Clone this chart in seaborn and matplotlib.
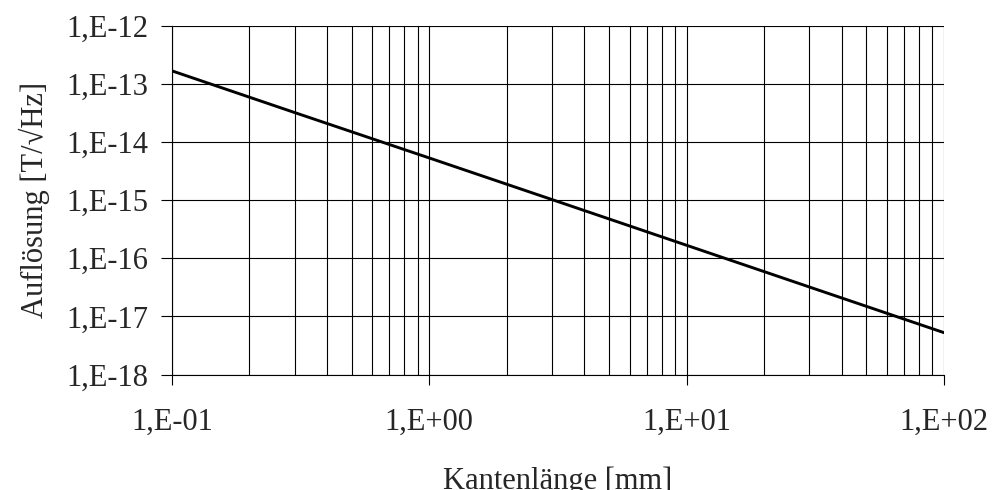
import numpy as np
import pandas as pd
import matplotlib
matplotlib.use('Agg')
import matplotlib.pyplot as plt
import matplotlib.ticker as mticker
import seaborn as sns

# values
kantenlaenge = [0.1, 0.3, 1, 3, 10, 30, 100]
aufloesung = [1.67e-13, 3.2e-14, 5.3e-15, 1.02e-15, 1.67e-16, 3.2e-17, 5.25e-18]

df = pd.DataFrame({'Kantenlänge': kantenlaenge, 'Auflösung': aufloesung})

sns.set_style('white')
plt.rcParams['font.family'] = ['Liberation Serif', 'DejaVu Serif']


def sci_fmt(v, pos):
    e = int(round(np.log10(v)))
    return '1,E%+03d' % e


fig = plt.figure(figsize=(10.01, 4.90), dpi=100)
ax = fig.add_axes([0.1718, 0.2357, 0.943 - 0.1718, 0.9476 - 0.2357])

sns.lineplot(data=df, x='Kantenlänge', y='Auflösung', color='black', linewidth=2.1, ax=ax)

ax.set_xscale('log')
ax.set_yscale('log')
ax.set_xlim(0.1, 100)
ax.set_ylim(1e-18, 1e-12)

ax.xaxis.set_major_locator(mticker.LogLocator(base=10, numticks=10))
ax.xaxis.set_minor_locator(mticker.LogLocator(base=10, subs=np.arange(2, 10), numticks=20))
ax.yaxis.set_major_locator(mticker.LogLocator(base=10, numticks=10))
ax.yaxis.set_minor_locator(mticker.NullLocator())
ax.xaxis.set_major_formatter(mticker.FuncFormatter(sci_fmt))
ax.yaxis.set_major_formatter(mticker.FuncFormatter(sci_fmt))
ax.xaxis.set_minor_formatter(mticker.NullFormatter())

ax.grid(True, which='major', axis='both', color='black', linewidth=0.8)
ax.grid(True, which='minor', axis='x', color='black', linewidth=0.8)

for s in ax.spines.values():
    s.set_visible(False)
for side in ['left', 'bottom']:
    ax.spines[side].set_visible(True)
    ax.spines[side].set_color('black')
    ax.spines[side].set_linewidth(0.8)

ax.tick_params(axis='x', which='major', direction='out', length=7, width=0.8, color='black',
               bottom=True, pad=17, labelsize=22)
ax.tick_params(axis='x', which='minor', length=0)
ax.tick_params(axis='y', which='major', direction='out', length=8, width=0.8, color='black',
               left=True, pad=9, labelsize=22)

ax.set_xlabel('Kantenlänge [mm]', fontsize=22, labelpad=21)
ax.set_ylabel('Auflösung [T/√Hz]', fontsize=22, labelpad=12)

fig.savefig('out.png', dpi=100)
